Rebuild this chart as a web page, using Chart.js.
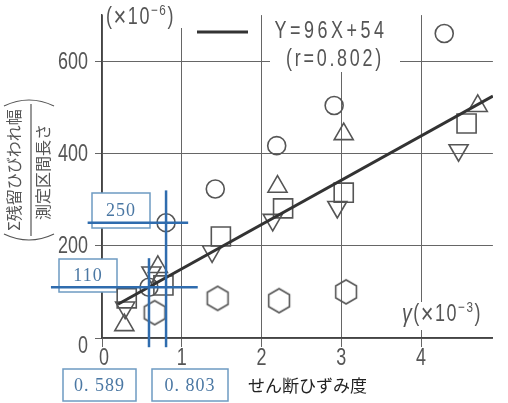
<!DOCTYPE html>
<html>
<head>
<meta charset="utf-8">
<script src="https://cdn.jsdelivr.net/npm/chart.js@4/dist/chart.umd.min.js"></script>
<style>
  html, body { margin: 0; padding: 0; background: #fff; }
  #wrap { width: 508px; height: 403px; }
</style>
</head>
<body>
<div id="wrap"><canvas id="chart_crack" width="508" height="403"></canvas></div>
<script>
// shear strain (x 10^-3) vs residual crack width / gauge length (x 10^-6)
var circlePts   = [[0.589, 110], [0.803, 250], [1.42, 323], [2.19, 417], [2.91, 504], [4.29, 660]];
var trianglePts = [[0.28, 28], [0.70, 154], [2.20, 328], [3.03, 442], [4.71, 503]];
var squarePts   = [[0.31, 86], [0.77, 114], [1.49, 220], [2.27, 281], [3.03, 315], [4.57, 465]];
var invTriPts   = [[0.29, 66], [0.62, 142], [1.38, 188], [2.14, 256], [2.95, 284], [4.47, 407]];
var hexagonPts  = [[0.66, 55], [1.45, 86], [2.22, 81], [3.06, 100]];

// regression Y = 96X + 54 (r = 0.802)
var fitSlope = 96;
var fitIntercept = 54;
var fitFrom = 0.2;
var fitTo = 4.9;

// reading guides
var guideX = [0.589, 0.803];
var guideY = [110, 250];

var xTicks = [0, 1, 2, 3, 4];
var yTicks = [0, 200, 400, 600];

var NUM_FONT = "'Liberation Sans', sans-serif";
var NUM_SIZE = 23;
var NARROW = 0.78;   // the printed digits are condensed
var INK = '#555';

function toXY(arr) {
    return arr.map(function (p) { return { x: p[0], y: p[1] }; });
}

// hexagon marker as an image for pointStyle
function hexagonImage(r) {
    var s = Math.ceil(2 * r + 4);
    var c = document.createElement('canvas');
    c.width = s; c.height = s;
    var g = c.getContext('2d');
    g.strokeStyle = INK;
    g.lineWidth = 1.6;
    g.beginPath();
    for (var i = 0; i < 6; i++) {
        var a = Math.PI / 3 * i - Math.PI / 2;
        var px = s / 2 + r * Math.cos(a), py = s / 2 + r * Math.sin(a);
        if (i === 0) g.moveTo(px, py); else g.lineTo(px, py);
    }
    g.closePath();
    g.stroke();
    return c;
}

function markerSet(pts, style, radius, rotation) {
    return {
        data: toXY(pts),
        pointStyle: style,
        pointRadius: radius,
        pointRotation: rotation || 0,
        pointBorderColor: INK,
        pointBackgroundColor: 'rgba(0,0,0,0)',
        pointBorderWidth: 1.6,
        showLine: false,
        order: 2
    };
}

function guideSet(pts) {
    return {
        data: pts,
        showLine: true,
        borderColor: '#2f6cae',
        borderWidth: 2.5,
        pointRadius: 0,
        clip: false,
        order: 0
    };
}

// condensed text: pieces of [text, size, dy, italic], laid out along a squeezed baseline
function narrowText(ctx, pieces, x, y, align, spacing) {
    ctx.save();
    ctx.letterSpacing = (spacing || 0) + 'px';
    var total = 0;
    pieces.forEach(function (p) {
        ctx.font = (p[3] ? 'italic ' : '') + p[1] + 'px ' + NUM_FONT;
        total += ctx.measureText(p[0]).width;
    });
    ctx.translate(x, y);
    ctx.scale(NARROW, 1);
    var cx = align === 'center' ? -total / 2 : (align === 'right' ? -total : 0);
    ctx.textAlign = 'left';
    ctx.textBaseline = 'middle';
    pieces.forEach(function (p) {
        ctx.font = (p[3] ? 'italic ' : '') + p[1] + 'px ' + NUM_FONT;
        ctx.fillText(p[0], cx, p[2] || 0);
        cx += ctx.measureText(p[0]).width;
    });
    ctx.restore();
}

function labelBox(ctx, text, x, y, w, h) {
    ctx.fillStyle = '#fff';
    ctx.fillRect(x, y, w, h);
    ctx.strokeStyle = '#6e9bc2';
    ctx.lineWidth = 1.5;
    ctx.strokeRect(x, y, w, h);
    ctx.fillStyle = '#4a77a3';
    ctx.font = "18px 'Liberation Serif', 'DejaVu Serif', serif";
    ctx.letterSpacing = '1px';
    ctx.textAlign = 'center';
    ctx.textBaseline = 'middle';
    ctx.fillText(text, x + w / 2, y + h / 2 + 1);
    ctx.letterSpacing = '0px';
}

var annotations = {
    id: 'annotations',
    beforeDatasetsDraw: function (chart) {
        var ctx = chart.ctx;
        var xs = chart.scales.x, ys = chart.scales.y;
        ctx.save();

        // blank out grid behind the texts
        ctx.fillStyle = '#fff';
        ctx.fillRect(270, 10, 130, 62);
        ctx.fillRect(180, 0, 12, 28);
        ctx.fillRect(396, 302, 92, 28);

        ctx.fillStyle = INK;

        // tick numbers
        xTicks.forEach(function (v) {
            narrowText(ctx, [[String(v), NUM_SIZE]], xs.getPixelForValue(v) + (v === 0 ? 2 : 0), ys.bottom + 21, 'center');
        });
        yTicks.forEach(function (v) {
            if (v === 0) {
                narrowText(ctx, [['0', NUM_SIZE]], 88, ys.getPixelForValue(v) + 9, 'right');
            } else {
                narrowText(ctx, [[String(v), NUM_SIZE]], 88, ys.getPixelForValue(v) + 1, 'right');
            }
        });

        // unit of y
        narrowText(ctx, [['(', NUM_SIZE], ['×', 28], ['10', NUM_SIZE], ['−6', 15, -7], [')', NUM_SIZE]], 106, 18, 'left', 2);

        // legend line and equation
        ctx.strokeStyle = '#333';
        ctx.lineWidth = 3;
        ctx.beginPath();
        ctx.moveTo(197, 32);
        ctx.lineTo(248, 32);
        ctx.stroke();

        narrowText(ctx, [['Y=96X+54', NUM_SIZE]], 331, 32, 'center', 4.5);
        narrowText(ctx, [['(r=0.802)', NUM_SIZE]], 335, 60, 'center', 3.5);

        // unit of x
        narrowText(ctx, [['γ', 25, 0, true], ['(', NUM_SIZE], ['×', 28], ['10', NUM_SIZE], ['−3', 15, -7], [')', NUM_SIZE]], 442, 315, 'center', 2);

        // x title
        ctx.fillStyle = '#222';
        ctx.font = "17px 'Noto Sans CJK JP', sans-serif";
        ctx.textAlign = 'left';
        ctx.textBaseline = 'middle';
        ctx.fillText('せん断ひずみ度', 248, 386);

        // y title as a fraction, rotated
        ctx.save();
        ctx.translate(28, 170);
        ctx.rotate(-Math.PI / 2);
        ctx.fillStyle = INK;
        ctx.font = "16px 'Noto Sans CJK JP', sans-serif";
        ctx.textAlign = 'center';
        ctx.fillText('Σ残留ひびわれ幅', 0, -14);
        ctx.fillText('測定区間長さ', -2, 15);
        ctx.strokeStyle = INK;
        ctx.lineWidth = 1.2;
        ctx.beginPath();
        ctx.moveTo(-66, 3);
        ctx.lineTo(66, 3);
        ctx.stroke();
        ctx.beginPath();
        ctx.moveTo(-64, -24);
        ctx.quadraticCurveTo(-76, 1, -64, 26);
        ctx.moveTo(64, -24);
        ctx.quadraticCurveTo(76, 1, 64, 26);
        ctx.stroke();
        ctx.restore();

        // value boxes
        labelBox(ctx, '250', 92, 193, 58, 35);
        labelBox(ctx, '110', 59, 259, 58, 33);
        labelBox(ctx, '0. 589', 63, 369, 73, 32);
        labelBox(ctx, '0. 803', 152, 369, 76, 32);

        ctx.restore();
    }
};

var fitLine = [fitFrom, fitTo].map(function (x) {
    return { x: x, y: fitSlope * x + fitIntercept };
});

var datasets = [
    guideSet([{ x: guideX[0], y: -20 }, { x: guideX[0], y: 173 }]),
    guideSet([{ x: guideX[1], y: -20 }, { x: guideX[1], y: 320 }]),
    guideSet([{ x: -0.64, y: guideY[0] }, { x: 1.2, y: guideY[0] }]),
    guideSet([{ x: -0.18, y: guideY[1] }, { x: 1.08, y: guideY[1] }]),
    {
        data: fitLine,
        showLine: true,
        borderColor: '#333',
        borderWidth: 3,
        pointRadius: 0,
        order: 1
    },
    markerSet(circlePts, 'circle', 9),
    markerSet(trianglePts, 'triangle', 11),
    markerSet(squarePts, 'rect', 13.5),
    markerSet(invTriPts, 'triangle', 11, 180),
    markerSet(hexagonPts, hexagonImage(12), 12)
];

var ctxCrack = document.getElementById('chart_crack').getContext('2d');
var chartCrack = new Chart(ctxCrack, {
    type: 'scatter',
    data: { datasets: datasets },
    options: {
        responsive: false,
        animation: false,
        layout: { padding: { top: 2, right: 0, bottom: 0, left: 0 } },
        plugins: {
            legend: { display: false },
            tooltip: { enabled: false }
        },
        scales: {
            x: {
                type: 'linear',
                min: 0,
                max: 4.9,
                afterBuildTicks: function (s) {
                    s.ticks = xTicks.map(function (v) { return { value: v }; });
                },
                afterFit: function (s) { s.height = 65; },
                ticks: {
                    callback: function () { return ''; },
                    maxRotation: 0
                },
                grid: { color: '#666', lineWidth: 1, tickLength: 9 },
                border: { color: '#444', width: 1.5 }
            },
            y: {
                type: 'linear',
                min: 0,
                max: 700,
                afterBuildTicks: function (s) {
                    s.ticks = yTicks.map(function (v) { return { value: v }; });
                },
                afterFit: function (s) { s.width = 102; },
                ticks: {
                    callback: function () { return ''; }
                },
                grid: { color: '#666', lineWidth: 1, tickLength: 7 },
                border: { color: '#444', width: 1.5 }
            }
        }
    },
    plugins: [annotations]
});
</script>
</body>
</html>
